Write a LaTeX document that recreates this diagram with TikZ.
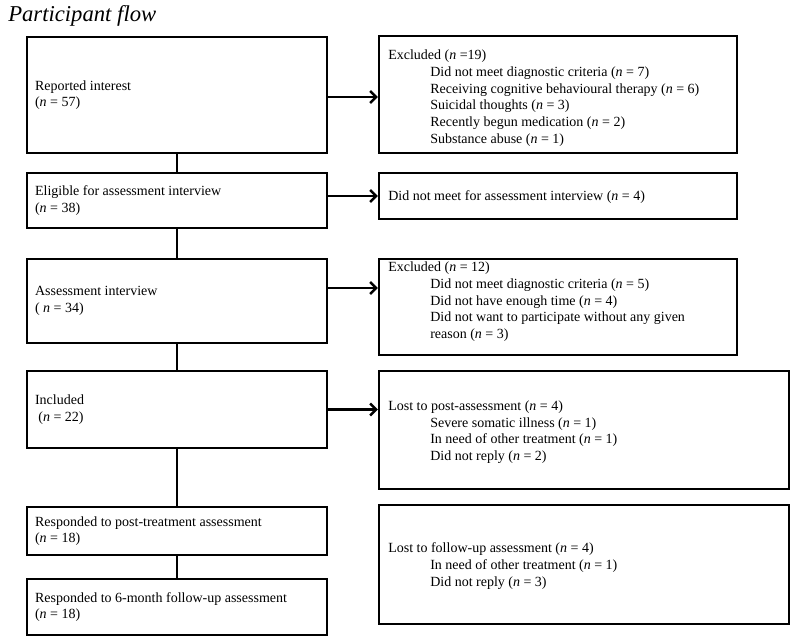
\documentclass[tikz,border=0pt]{standalone}
\usepackage{fontspec}
\setmainfont{Liberation Serif}
\usetikzlibrary{arrows.meta}
\begin{document}
\begin{tikzpicture}[x=0.75pt,y=-0.75pt,
  box/.style={draw, line width=1.8pt, rectangle, inner sep=0pt},
  txt/.style={inner sep=0pt, align=left, font=\fontsize{10.5}{12.5}\selectfont},
  arr/.style={line width=1.8pt, -{Straight Barb[length=4.5pt,width=9pt,line width=1.8pt]}},
  lnk/.style={line width=1.8pt}]
\useasboundingbox (0,0) rectangle (793,638);
\newcommand{\nn}{\textit{n}}
\newcommand{\ind}{\hspace*{31.5pt}}
% title
\node[inner sep=0pt, anchor=base west, font=\fontsize{17}{20}\selectfont\itshape] (title) at (8,22) {Participant flow};
% left boxes
\node[box, minimum width=225pt, minimum height=87pt] (L1) at (177,95) {};
\node[box, minimum width=225pt, minimum height=41.25pt] (L2) at (177,200.5) {};
\node[box, minimum width=225pt, minimum height=63pt] (L3) at (177,301) {};
\node[box, minimum width=225pt, minimum height=57.75pt] (L4) at (177,409.5) {};
\node[box, minimum width=225pt, minimum height=36pt] (L5) at (177,531) {};
\node[box, minimum width=225pt, minimum height=42pt] (L6) at (177,607) {};
% right boxes
\node[box, minimum width=268.5pt, minimum height=87.75pt] (R1) at (558,94.5) {};
\node[box, minimum width=268.5pt, minimum height=34.5pt] (R2) at (558,196) {};
\node[box, minimum width=268.5pt, minimum height=72pt] (R3) at (558,307) {};
\node[box, minimum width=307.5pt, minimum height=88.5pt] (R4) at (584,430) {};
\node[box, minimum width=307.5pt, minimum height=89.25pt] (R5) at (584,564.5) {};
% left texts
\node[txt, anchor=west] (t1) at ([xshift=6.75pt]L1.west) {Reported interest\\(\nn{} = 57)};
\node[txt, anchor=west] (t2) at ([xshift=6.75pt]L2.west) {Eligible for assessment interview\\(\nn{} = 38)};
\node[txt, anchor=west] (t3) at ([xshift=6.75pt]L3.west) {Assessment interview\\( \nn{} = 34)};
\node[txt, anchor=west] (t4) at ([xshift=6.75pt]L4.west) {Included\\\hspace*{2.5pt}(\nn{} = 22)};
\node[txt, anchor=west] (t5) at ([xshift=6.75pt]L5.west) {Responded to post-treatment assessment\\(\nn{} = 18)};
\node[txt, anchor=west] (t6) at ([xshift=6.75pt]L6.west) {Responded to 6-month follow-up assessment\\(\nn{} = 18)};
% right texts
\node[txt, anchor=north west] (u1) at (388,50) {Excluded (\nn{} =19)\\
\ind Did not meet diagnostic criteria (\nn{} = 7)\\
\ind Receiving cognitive behavioural therapy (\nn{} = 6)\\
\ind Suicidal thoughts (\nn{} = 3)\\
\ind Recently begun medication (\nn{} = 2)\\
\ind Substance abuse (\nn{} = 1)};
\node[txt, anchor=west] (u2) at (388,197) {Did not meet for assessment interview (\nn{} = 4)};
\node[txt, anchor=north west] (u3) at (388,262) {Excluded (\nn{} = 12)\\
\ind Did not meet diagnostic criteria (\nn{} = 5)\\
\ind Did not have enough time (\nn{} = 4)\\
\ind Did not want to participate without any given\\
\ind reason (\nn{} = 3)};
\node[txt, anchor=west] (u4) at (388,432) {Lost to post-assessment (\nn{} = 4)\\
\ind Severe somatic illness (\nn{} = 1)\\
\ind In need of other treatment (\nn{} = 1)\\
\ind Did not reply (\nn{} = 2)};
\node[txt, anchor=west] (u5) at (388,566) {Lost to follow-up assessment (\nn{} = 4)\\
\ind In need of other treatment (\nn{} = 1)\\
\ind Did not reply (\nn{} = 3)};
% vertical links
\draw[lnk] (L1.south) -- (L2.north);
\draw[lnk] (L2.south) -- (L3.north);
\draw[lnk] (L3.south) -- (L4.north);
\draw[lnk] (L4.south) -- (L5.north);
\draw[lnk] (L5.south) -- (L6.north);
% arrows
\draw[arr] ([yshift=-1.5pt]L1.east) -- ([yshift=-1.5pt]L1.east -| R1.west);
\draw[arr] (R2.west -| L2.east) -- (R2.west);
\draw[arr] ([yshift=9.75pt]L3.east) -- ([yshift=9.75pt]L3.east -| R3.west);
\draw[arr] (L4.east) -- (L4.east -| R4.west);
\end{tikzpicture}
\end{document}
